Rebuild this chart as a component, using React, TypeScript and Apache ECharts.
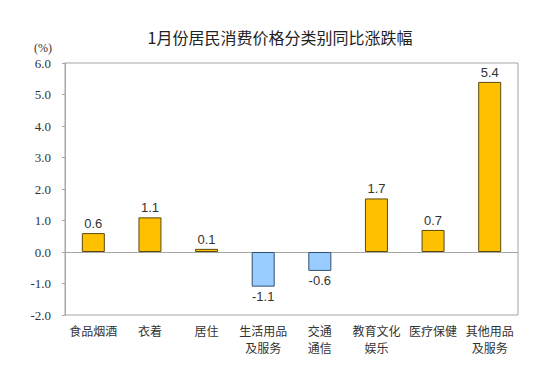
import React, { useEffect, useRef } from "react";
import * as echarts from "echarts";

const title = "1月份居民消费价格分类别同比涨跌幅";
const categories = ["食品烟酒", "衣着", "居住", "生活用品\n及服务", "交通\n通信", "教育文化\n娱乐", "医疗保健", "其他用品\n及服务"];
const values = [0.6, 1.1, 0.1, -1.1, -0.6, 1.7, 0.7, 5.4];
const yMin = -2;
const yMax = 6;
const yInterval = 1;
const unitLabel = "(%)";

export default function App() {
  const ref = useRef<HTMLDivElement>(null);
  useEffect(() => {
    if (!ref.current) return;
    const chart = echarts.init(ref.current, null, { renderer: "svg" });
    const cjk = '"Noto Sans CJK SC", sans-serif';
    chart.setOption({
      animation: false,
      backgroundColor: "#ffffff",
      title: {
        text: title,
        left: 275,
        textAlign: "center",
        top: 24,
        textStyle: { fontFamily: cjk, fontSize: 16, fontWeight: "normal", color: "#222" },
      },
      graphic: [
        {
          type: "text",
          left: 34,
          top: 42,
          style: { text: unitLabel, font: '12px "Liberation Serif", serif', fill: "#333" },
        },
      ],
      grid: {
        left: 65,
        right: 37,
        top: 63,
        bottom: 52,
        containLabel: false,
        outerBoundsMode: "none",
        show: true,
        borderColor: "#a6a6a6",
        borderWidth: 1,
      },
      xAxis: {
        type: "category",
        data: categories,
        axisLine: { onZero: true, lineStyle: { color: "#a6a6a6", width: 1 } },
        axisTick: { show: false },
        axisLabel: {
          interval: 0,
          margin: 7,
          fontFamily: cjk,
          fontSize: 12,
          color: "#333",
          lineHeight: 17,
          verticalAlign: "top",
        },
        splitLine: { show: false },
      },
      yAxis: {
        type: "value",
        min: yMin,
        max: yMax,
        interval: yInterval,
        axisLine: { show: true, lineStyle: { color: "#a6a6a6" } },
        axisTick: { show: true, inside: false, length: 3, lineStyle: { color: "#a6a6a6" } },
        axisLabel: {
          margin: 14,
          formatter: (v: number) => v.toFixed(1),
          fontFamily: '"Liberation Serif", serif',
          fontSize: 13,
          color: "#333",
        },
        splitLine: { show: false },
      },
      series: [
        {
          type: "bar",
          barWidth: 23,
          data: values.map((v) => ({
            value: v,
            itemStyle: {
              color: v >= 0 ? "#FFC000" : "#99CCFF",
              borderColor: v >= 0 ? "#5a4a10" : "#2f4f6f",
              borderWidth: 1,
            },
            label: {
              show: true,
              position: v >= 0 ? "top" : "bottom",
              distance: 3,
              formatter: (p: any) => Number(p.value).toFixed(1),
              fontFamily: '"Liberation Sans", Arial, sans-serif',
              fontSize: 13,
              color: "#333",
            },
          })),
        },
      ],
    });
    return () => chart.dispose();
  }, []);
  return <div ref={ref} style={{ width: 555, height: 367, margin: -8 }} />;
}
